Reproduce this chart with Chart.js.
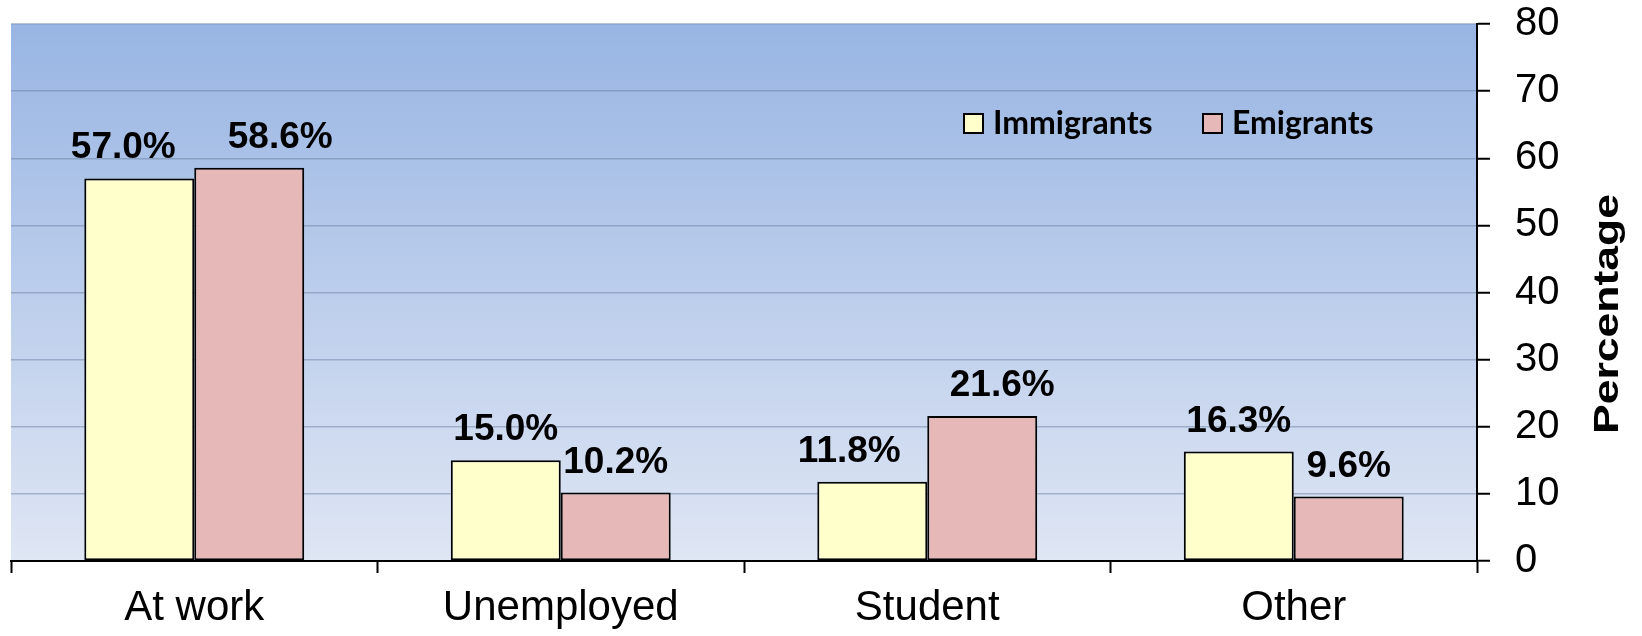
<!DOCTYPE html>
<html>
<head>
<meta charset="utf-8">
<script src="https://cdn.jsdelivr.net/npm/chart.js@4/dist/chart.umd.min.js"></script>
<style>
  html, body { margin: 0; padding: 0; background: #fff; }
  #wrap { width: 1642px; height: 636px; }
</style>
</head>
<body>
<div id="wrap"><canvas id="chart" width="1642" height="636"></canvas></div>
<script>
const categories = ['At work', 'Unemployed', 'Student', 'Other'];
const immigrants = [57.0, 15.0, 11.8, 16.3];
const emigrants = [58.6, 10.2, 21.6, 9.6];
const yTicks = [0, 10, 20, 30, 40, 50, 60, 70, 80];

// small sideways shifts so neighbouring value labels don't collide
const labelNudge = [[-16, 0, -23, 0], [31, 0, 20, 0]];

const ARIAL = '"Liberation Sans", Arial, sans-serif';

// gradient behind the plot area
const plotBackground = {
  id: 'plotBackground',
  beforeDraw(chart) {
    const { ctx, chartArea } = chart;
    const g = ctx.createLinearGradient(0, chartArea.top, 0, chartArea.bottom);
    g.addColorStop(0, '#98B5E3');
    g.addColorStop(1, '#DFE6F4');
    ctx.save();
    ctx.fillStyle = g;
    ctx.fillRect(chartArea.left, chartArea.top, chartArea.right - chartArea.left, chartArea.bottom - chartArea.top);
    ctx.restore();
  }
};

// value labels above the bars
const valueLabels = {
  id: 'valueLabels',
  afterDatasetsDraw(chart) {
    const ctx = chart.ctx;
    ctx.save();
    ctx.font = 'bold 37px ' + ARIAL;
    ctx.fillStyle = '#000';
    ctx.textAlign = 'center';
    ctx.textBaseline = 'alphabetic';
    chart.data.datasets.forEach((ds, i) => {
      chart.getDatasetMeta(i).data.forEach((bar, j) => {
        ctx.fillText(ds.data[j].toFixed(1) + '%', bar.x + labelNudge[i][j], bar.y - 20);
      });
    });
    ctx.restore();
  }
};

// legend inside the plot + rotated axis title
const extras = {
  id: 'extras',
  afterDraw(chart) {
    const { ctx, chartArea } = chart;
    ctx.save();
    ctx.font = 'bold 32px Lato, "Open Sans", sans-serif';
    ctx.textBaseline = 'middle';
    ctx.textAlign = 'left';
    let x = chartArea.left + 953;
    const y = chartArea.top + 90;
    chart.data.datasets.forEach(ds => {
      ctx.fillStyle = ds.backgroundColor;
      ctx.fillRect(x, y, 19, 19);
      ctx.strokeStyle = '#000';
      ctx.lineWidth = 2;
      ctx.strokeRect(x, y, 19, 19);
      ctx.fillStyle = '#000';
      ctx.fillText(ds.label, x + 29, y + 10);
      x += 239;
    });
    ctx.restore();

    ctx.save();
    ctx.font = 'bold 35px ' + ARIAL;
    const w = ctx.measureText('Percentage').width;
    ctx.translate(1608, 314);
    ctx.rotate(-Math.PI / 2);
    ctx.scale(240 / w, 1);
    ctx.fillStyle = '#000';
    ctx.textAlign = 'center';
    ctx.textBaseline = 'middle';
    ctx.fillText('Percentage', 0, 0);
    ctx.restore();
  }
};

new Chart(document.getElementById('chart'), {
  type: 'bar',
  data: {
    labels: categories,
    datasets: [
      {
        label: 'Immigrants',
        data: immigrants,
        backgroundColor: '#FFFFCC',
        borderColor: '#000',
        borderWidth: 2,
        borderSkipped: false,
        categoryPercentage: 0.6,
        barPercentage: 1.0
      },
      {
        label: 'Emigrants',
        data: emigrants,
        backgroundColor: '#E6B9B8',
        borderColor: '#000',
        borderWidth: 2,
        borderSkipped: false,
        categoryPercentage: 0.6,
        barPercentage: 1.0
      }
    ]
  },
  options: {
    responsive: false,
    animation: false,
    layout: { padding: { left: 11, top: 24, right: 0, bottom: 0 } },
    plugins: {
      legend: { display: false },
      tooltip: { enabled: false }
    },
    scales: {
      x: {
        offset: true,
        grid: {
          offset: true,
          drawOnChartArea: false,
          drawTicks: true,
          tickLength: 12,
          tickColor: '#000',
          tickWidth: 2
        },
        border: { display: true, color: '#000', width: 2 },
        ticks: {
          color: '#000',
          font: { family: ARIAL, size: 42 },
          padding: 10
        },
        afterFit(scale) {
          scale.height = 75;
          scale.paddingLeft = 0;
          scale.paddingRight = 0;
        }
      },
      y: {
        position: 'right',
        min: 0,
        max: 80,
        afterBuildTicks(scale) { scale.ticks = yTicks.map(v => ({ value: v })); },
        grid: {
          color: 'rgba(100,120,155,0.45)',
          lineWidth: 1.5,
          tickColor: '#000',
          tickWidth: 2,
          tickLength: 13
        },
        border: { display: true, color: '#000', width: 2 },
        ticks: {
          color: '#000',
          font: { family: ARIAL, size: 40 },
          padding: 25
        },
        afterFit(scale) {
          scale.width = 165;
          scale.paddingTop = 0;
          scale.paddingBottom = 0;
        }
      }
    }
  },
  plugins: [plotBackground, valueLabels, extras]
});
</script>
</body>
</html>
